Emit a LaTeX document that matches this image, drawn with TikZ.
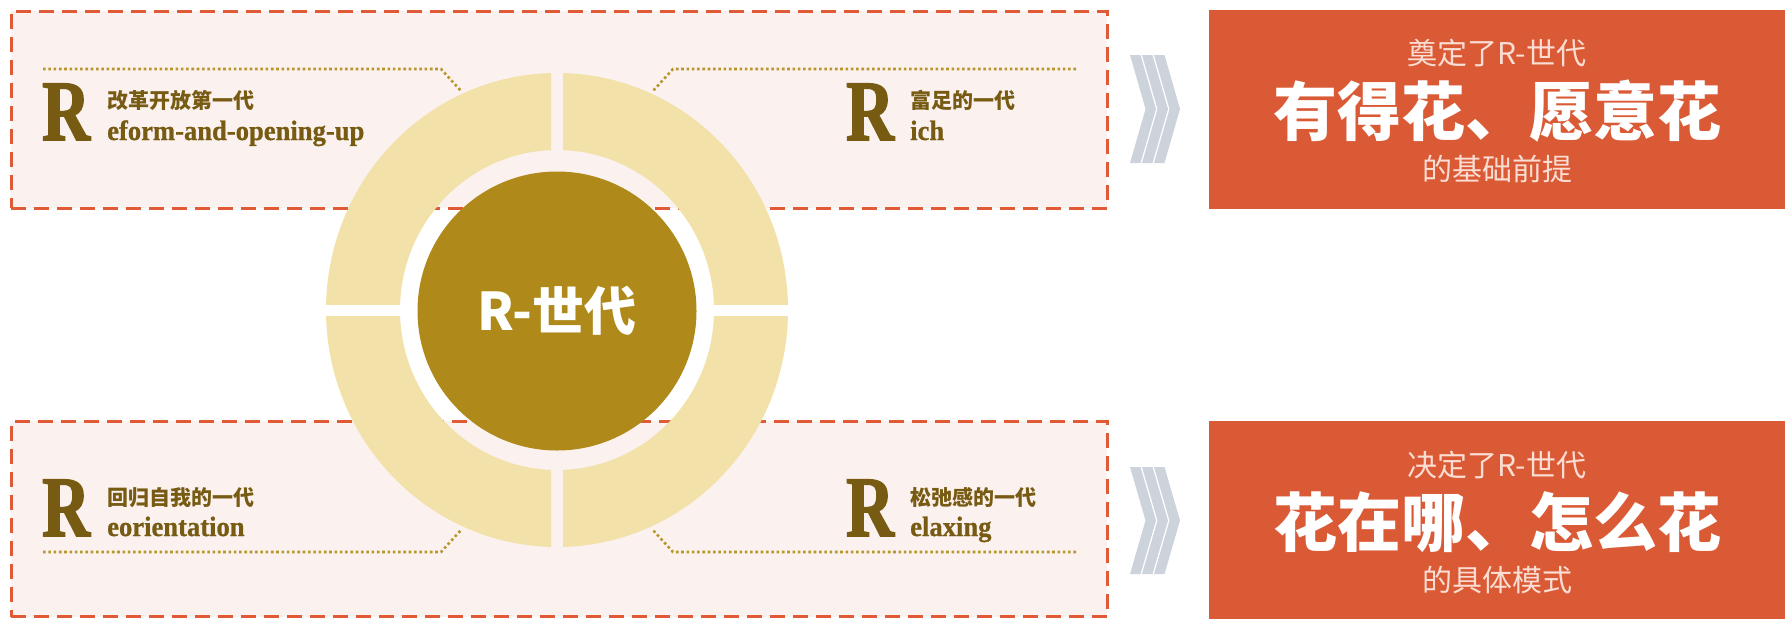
\documentclass[tikz,border=0pt]{standalone}
\usepackage{fontspec}
\newfontfamily\cjk{Noto Sans CJK SC}
\newfontfamily\rfont[UprightFont={* Bold},FakeStretch=0.77,FakeBold=1.8]{Liberation Serif}
\newfontfamily\efont[UprightFont={* Bold},FakeStretch=0.95,FakeBold=0.8]{Liberation Serif}
\definecolor{dashc}{HTML}{E05A35}
\definecolor{boxc}{HTML}{FBF1EF}
\definecolor{orangec}{HTML}{DB5A36}
\definecolor{ringc}{HTML}{F2E1A9}
\definecolor{corec}{HTML}{AF8A1A}
\definecolor{brownc}{HTML}{775B13}
\definecolor{dotc}{HTML}{B8962A}
\definecolor{chevc}{HTML}{CDD3DB}
\definecolor{palec}{HTML}{FADDD3}
\begin{document}
\begin{tikzpicture}[x=1pt,y=-1pt,
  dbox/.style={draw=dashc, fill=boxc, line width=3pt, dash pattern=on 15pt off 8pt, inner sep=0pt, outer sep=0pt, anchor=north west, minimum width=1096pt},
  obox/.style={fill=orangec, inner sep=0pt, outer sep=0pt, anchor=north west, minimum width=576pt},
  dotline/.style={draw=dotc, line width=2.6pt, dash pattern=on 2.6pt off 2.7pt},
  bigR/.style={text=brownc, inner sep=0pt, anchor=base west, font=\rfont\fontsize{86}{86}\selectfont},
  zh/.style={text=brownc, inner sep=0pt, anchor=base west, font=\cjk\bfseries\fontsize{21}{21}\selectfont},
  en/.style={text=brownc, inner sep=0pt, anchor=base west, font=\efont\fontsize{28}{28}\selectfont},
  osmall/.style={text=palec, inner sep=0pt, anchor=base, font=\cjk\fontsize{30}{30}\selectfont},
  obig/.style={text=white, inner sep=0pt, anchor=base, font=\cjk\bfseries\fontsize{64}{64}\selectfont},
  chev/.style={fill=chevc}
]
\useasboundingbox (0,0) rectangle (1785,619);

% dashed panels
\node[dbox, minimum height=197pt] (topbox) at (11,11) {};
\node[dbox, minimum height=195.5pt] (botbox) at (11,421) {};

% dotted leader lines
\coordinate (tl1) at (43,69);  \coordinate (tl2) at (441,69);  \coordinate (tl3) at (462,92);
\coordinate (tr1) at (1076,69); \coordinate (tr2) at (673,69); \coordinate (tr3) at (652,92);
\coordinate (bl1) at (43,552); \coordinate (bl2) at (441,552); \coordinate (bl3) at (462,529);
\coordinate (br1) at (1076,552); \coordinate (br2) at (673,552); \coordinate (br3) at (652,529);
\draw[dotline] (tl1) -- (tl2) -- (tl3);
\draw[dotline] (tr1) -- (tr2) -- (tr3);
\draw[dotline] (bl1) -- (bl2) -- (bl3);
\draw[dotline] (br1) -- (br2) -- (br3);

% ring in four segments
\foreach \sx/\sy in {1/1,1/-1,-1/1,-1/-1}{
  \begin{scope}
    \clip (557+\sx*6,310+\sy*6) rectangle (557+\sx*300,310+\sy*300);
    \fill[ringc, even odd rule] (557,310) ellipse [x radius=231pt, y radius=237pt]
                                (557,310) ellipse [x radius=157pt, y radius=160pt];
  \end{scope}
}
\node[circle, fill=corec, minimum size=279pt, inner sep=0pt, text=white,
      font=\cjk\bfseries\fontsize{52}{52}\selectfont] (core) at (557,311) {R-世代};

% labels
\node[bigR] (r1) at (42,140) {R};
\node[zh] (z1) at (107,108) {改革开放第一代};
\node[en] (e1) at (107,140) {eform-and-opening-up};

\node[bigR] (r2) at (846,140) {R};
\node[zh] (z2) at (910,108) {富足的一代};
\node[en] (e2) at (910,140) {ich};

\node[bigR] (r3) at (42,536) {R};
\node[zh] (z3) at (107,505) {回归自我的一代};
\node[en] (e3) at (107,536) {eorientation};

\node[bigR] (r4) at (846,536) {R};
\node[zh] (z4) at (910,505) {松弛感的一代};
\node[en] (e4) at (910,536) {elaxing};

% chevrons
\foreach \yt/\yb in {55/163,467/574}{
  \foreach \x in {1130,1142,1154}{
    \fill[chev] (\x,\yt) -- (\x+10.5,\yt) -- (\x+26,{(\yt+\yb)/2}) -- (\x+10.5,\yb)
                -- (\x,\yb) -- (\x+15.5,{(\yt+\yb)/2}) -- cycle;
  }
}

% orange result panels
\node[obox, minimum height=199pt] (res1) at (1209,10) {};
\node[obox, minimum height=198pt] (res2) at (1209,421) {};
\node[osmall] (a1) at (1497,64) {奠定了R-世代};
\node[obig]   (a2) at (1497,135) {有得花、愿意花};
\node[osmall] (a3) at (1497,180) {的基础前提};
\node[osmall] (b1) at (1497,476) {决定了R-世代};
\node[obig]   (b2) at (1497,546) {花在哪、怎么花};
\node[osmall] (b3) at (1497,591) {的具体模式};
\end{tikzpicture}
\end{document}
